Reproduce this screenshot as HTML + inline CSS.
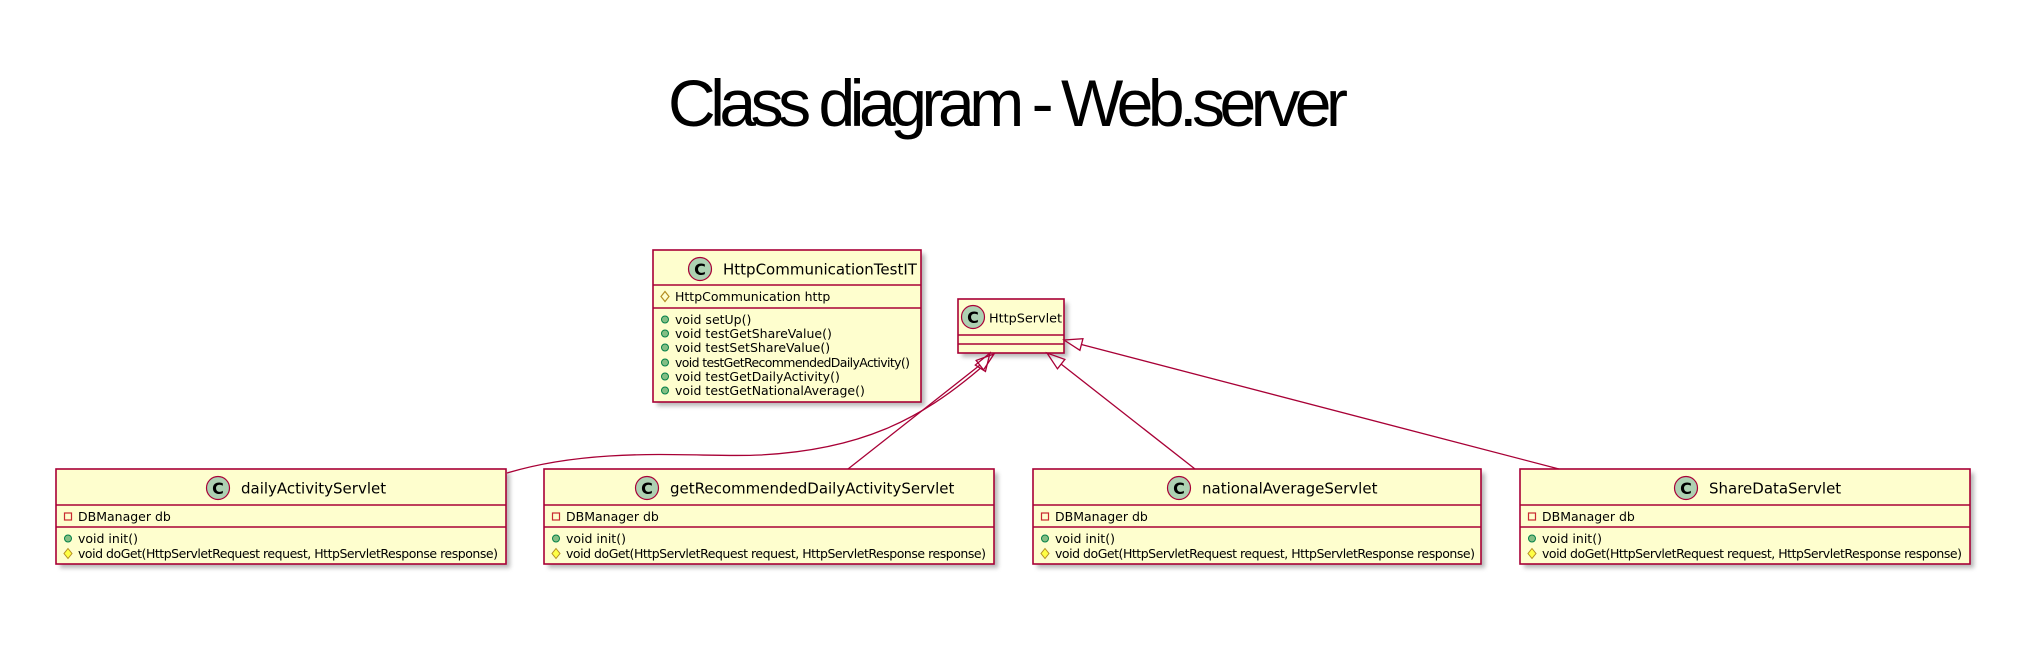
<!DOCTYPE html>
<html><head><meta charset="utf-8"><style>
html,body{margin:0;padding:0;background:#fff;width:2020px;height:670px;overflow:hidden}
svg text{font-family:"DejaVu Sans","Liberation Sans",sans-serif}
</style></head><body>
<svg id="s" width="2020" height="670" viewBox="0 0 2020 670" xmlns="http://www.w3.org/2000/svg">
<defs><filter id="sh" x="-10%" y="-10%" width="130%" height="140%"><feGaussianBlur stdDeviation="2"/></filter></defs>
<text x="668" y="126" font-size="66" textLength="680" lengthAdjust="spacing" style="font-family:'Liberation Sans',sans-serif" fill="#000">Class diagram - Web.server</text>
<g id="boxes"></g>
<g id="links" fill="none" stroke="#A80036" stroke-width="1.3"></g>
</svg>
<script>
var NS="http://www.w3.org/2000/svg",B=document.getElementById('boxes'),L=document.getElementById('links');
function el(p,t,a,txt){var e=document.createElementNS(NS,t);for(var k in a)e.setAttribute(k,a[k]);if(txt)e.textContent=txt;p.appendChild(e);return e;}
function icon(kind,x,y){
 if(kind=='pm')el(B,'circle',{cx:x,cy:y,r:3.5,fill:'#84BE84',stroke:'#038048','stroke-width':1});
 else if(kind=='pf')el(B,'rect',{x:x-3.5,y:y-3.5,width:7,height:7,fill:'none',stroke:'#C82930','stroke-width':1.2});
 else if(kind=='hf')el(B,'polygon',{points:(x)+','+(y-5)+' '+(x+4)+','+y+' '+x+','+(y+5)+' '+(x-4)+','+y,fill:'none',stroke:'#B38D22','stroke-width':1.2});
 else if(kind=='hm')el(B,'polygon',{points:(x)+','+(y-5)+' '+(x+4)+','+y+' '+x+','+(y+5)+' '+(x-4)+','+y,fill:'#FFFF44',stroke:'#B38D22','stroke-width':1});
}
function box(x,y,w,h,d1,d2,cx,cy,name,tx,rows,fs){
 el(B,'rect',{x:x+4,y:y+4,width:w,height:h,fill:'#888',opacity:0.6,filter:'url(#sh)'});
 el(B,'rect',{x:x,y:y,width:w,height:h,fill:'#FEFECE',stroke:'#A80036','stroke-width':1.6});
 el(B,'line',{x1:x,y1:d1,x2:x+w,y2:d1,stroke:'#A80036','stroke-width':1.6});
 el(B,'line',{x1:x,y1:d2,x2:x+w,y2:d2,stroke:'#A80036','stroke-width':1.6});
 el(B,'circle',{cx:cx,cy:cy,r:11.5,fill:'#ADD1B2',stroke:'#A80036','stroke-width':1.2});
 el(B,'text',{x:cx,y:cy+6,'font-size':16,'font-weight':'bold','text-anchor':'middle',fill:'#000'},'C');
 el(B,'text',{x:tx,y:cy+5.5,'font-size':fs||15,fill:'#000'},name);
 rows.forEach(function(r){icon(r[0],x+12,r[1]-4.5);var a={x:x+22,y:r[1],'font-size':12.5,fill:'#000'};if(r[3])a.textLength=r[3];el(B,'text',a,r[2]);});
}
var DG='void doGet(HttpServletRequest request, HttpServletResponse response)';
box(653,250,268,152,285,308,700,269,'HttpCommunicationTestIT',723,[
 ['hf',301,'HttpCommunication http'],
 ['pm',324,'void setUp()'],['pm',338,'void testGetShareValue()'],['pm',352,'void testSetShareValue()'],
 ['pm',367,'void testGetRecommendedDailyActivity()',235],['pm',381,'void testGetDailyActivity()'],['pm',395,'void testGetNationalAverage()']]);
box(958,299,106,54,335,344,973,317,'HttpServlet',989,[],12.8);
var bx=[[56,450,218,241,'dailyActivityServlet'],[544,450,647,670,'getRecommendedDailyActivityServlet'],[1033,448,1179,1202,'nationalAverageServlet'],[1520,450,1686,1709,'ShareDataServlet']];
bx.forEach(function(b){box(b[0],469,b[1],95,505,527,b[2],488,b[4],b[3],[['pf',521,'DBManager db'],['pm',543,'void init()'],['hm',558,DG,420]]);});
function arrow(tx,ty,fx,fy){
 var dx=fx-tx,dy=fy-ty,l=Math.hypot(dx,dy);dx/=l;dy/=l;var len=18,hw=6;
 var bx=tx+dx*len,by=ty+dy*len;
 el(L,'polygon',{points:tx+','+ty+' '+(bx-dy*hw)+','+(by+dx*hw)+' '+(bx+dy*hw)+','+(by-dx*hw),fill:'none'});
 return [bx,by];
}
var a=arrow(990,353,978,372);
el(L,'path',{d:'M507,473 C600,445 700,458 760,455 C860,450 920,420 '+a[0]+','+a[1]});
a=arrow(994,354,848,469);el(L,'line',{x1:848,y1:469,x2:a[0],y2:a[1]});
a=arrow(1047,353,1195,469);el(L,'line',{x1:1195,y1:469,x2:a[0],y2:a[1]});
a=arrow(1064,340,1559,469);el(L,'line',{x1:1559,y1:469,x2:a[0],y2:a[1]});
</script>
</body></html>
